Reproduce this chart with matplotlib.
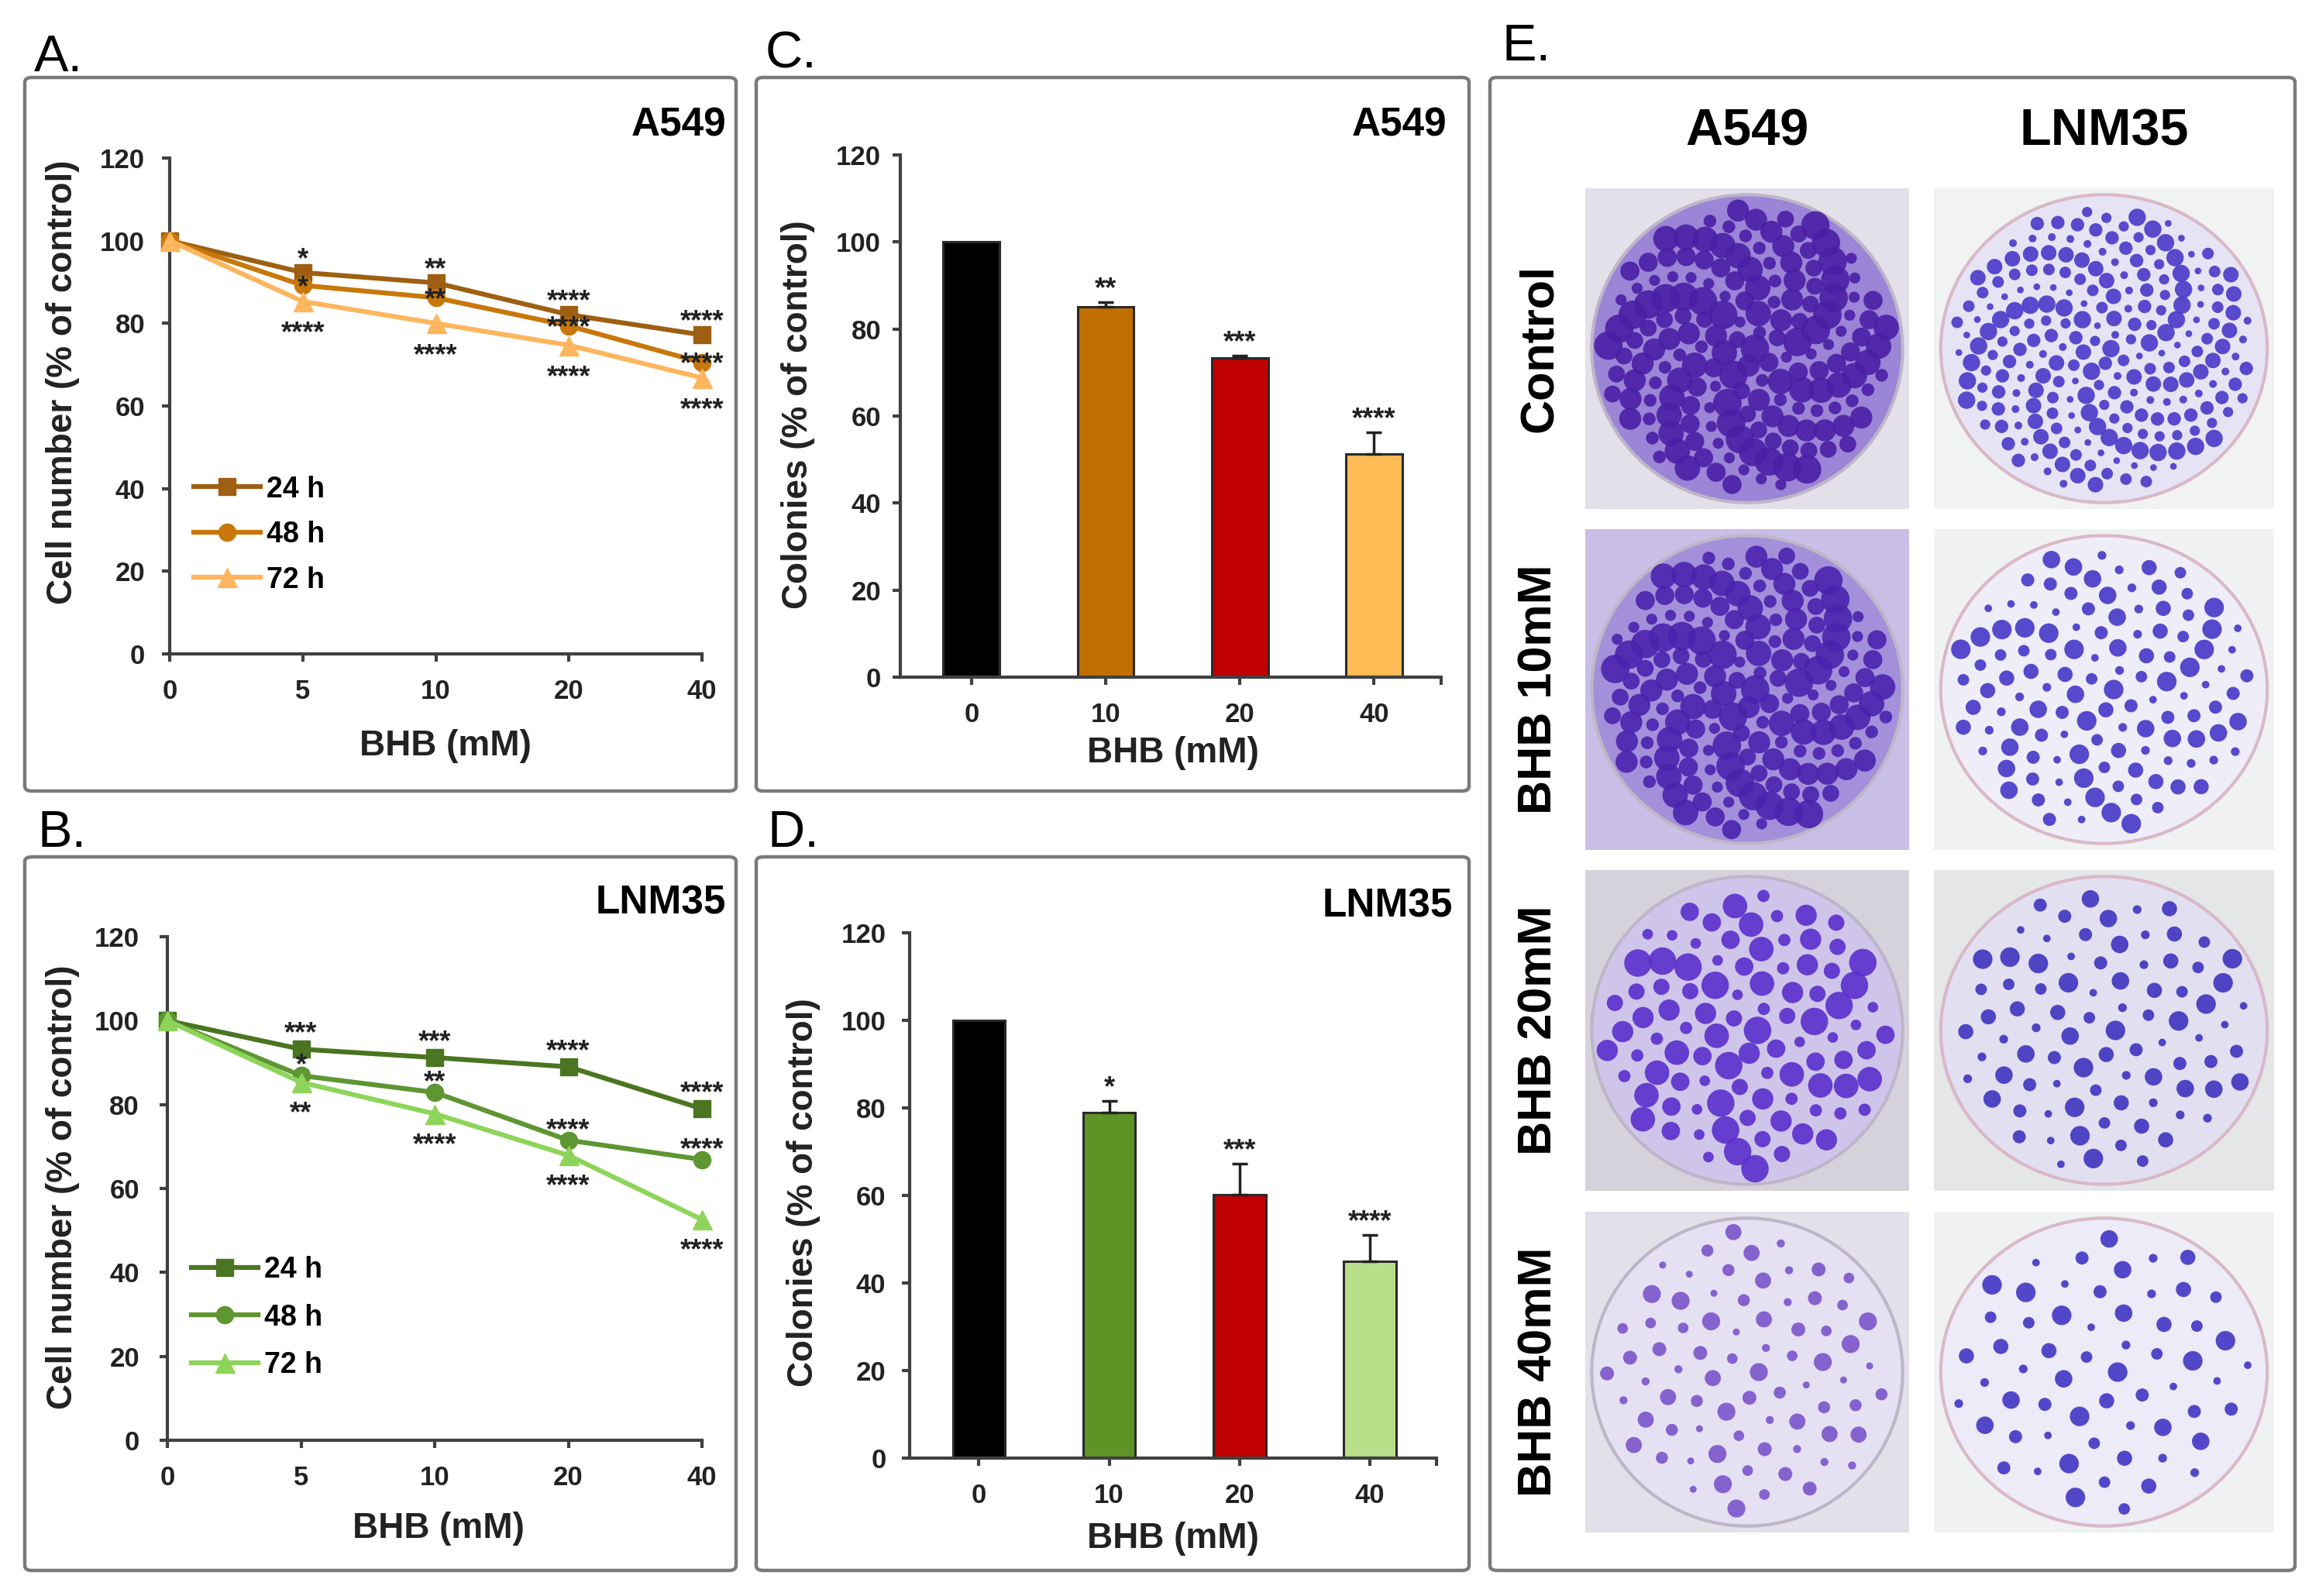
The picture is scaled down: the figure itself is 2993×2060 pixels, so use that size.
import numpy as np
import matplotlib
matplotlib.use("Agg")
import matplotlib.pyplot as plt
from matplotlib.patches import FancyBboxPatch, Circle, Rectangle

plt.rcParams['font.family'] = ['Liberation Sans', 'DejaVu Sans']
plt.rcParams['font.weight'] = 'bold'

W, H = 2993, 2060

# ---- data ----
doses_line = ['0', '5', '10', '20', '40']
doses_bar = ['0', '10', '20', '40']
hours = ['24 h', '48 h', '72 h']

# A. A549 cell number (% of control)
a549_24 = [100, 92.3, 89.8, 82.1, 77.2]
a549_48 = [100, 89.2, 86.2, 79.4, 70.5]
a549_72 = [100, 85.3, 80.0, 74.7, 66.8]
a549_24_sig = ['', '*', '**', '****', '****']
a549_48_sig = ['', '*', '**', '****', '****']
a549_72_sig = ['', '****', '****', '****', '****']

# B. LNM35 cell number (% of control)
lnm35_24 = [100, 93.2, 91.2, 89.0, 79.0]
lnm35_48 = [100, 86.9, 82.9, 71.5, 66.9]
lnm35_72 = [100, 85.3, 77.8, 67.9, 52.6]
lnm35_24_sig = ['', '***', '***', '****', '****']
lnm35_48_sig = ['', '*', '**', '****', '****']
lnm35_72_sig = ['', '**', '****', '****', '****']

# C. A549 colonies
a549_col = [100, 85.1, 73.4, 51.2]
a549_col_err = [0, 1.0, 0.5, 5.0]
a549_col_sig = ['', '**', '***', '****']

# D. LNM35 colonies
lnm35_col = [100, 79.0, 60.1, 45.0]
lnm35_col_err = [0, 2.6, 7.2, 6.0]
lnm35_col_sig = ['', '*', '***', '****']

# E. plates
plate_rows = ['Control', 'BHB 10mM', 'BHB 20mM', 'BHB 40mM']
plate_cols = ['A549', 'LNM35']
a549_colonies = [170, 160, 95, 75]
lnm35_colonies = [230, 120, 85, 60]

# colours
orange_cols = ['#9E5F12', '#C8780A', '#FDB65E']
green_cols = ['#4A7521', '#5E9632', '#8ED45A']
bar_c_cols = ['#000000', '#BF7000', '#C00000', '#FFBB55']
bar_d_cols = ['#000000', '#5E9426', '#C00000', '#B7DF8A']
spine_col = '#404040'


def fr(x0, y0, x1, y1):
    return [x0 / W, 1 - y1 / H, (x1 - x0) / W, (y1 - y0) / H]


def ftext(x, y, s, **kw):
    fig.text(x / W, 1 - y / H, s, **kw)


def box(x0, y0, x1, y1):
    p = FancyBboxPatch((x0 / W, 1 - y1 / H), (x1 - x0) / W, (y1 - y0) / H,
                       boxstyle='round,pad=0,rounding_size=0.003',
                       transform=fig.transFigure, fc='none', ec='#7a7a7a', lw=3.2)
    fig.patches.append(p)


def style_axes(ax, ypad, xpad):
    for s in ['top', 'right']:
        ax.spines[s].set_visible(False)
    for s in ['left', 'bottom']:
        ax.spines[s].set_color(spine_col)
        ax.spines[s].set_linewidth(3)
    ax.set_ylim(0, 120)
    ax.set_yticks(range(0, 121, 20))
    ax.tick_params(axis='y', length=7, width=3, color=spine_col, labelsize=25, pad=ypad)
    ax.tick_params(axis='x', length=7, width=3, color=spine_col, labelsize=25, pad=xpad)
    for t in ax.get_xticklabels() + ax.get_yticklabels():
        t.set_fontweight('bold')
        t.set_color('#222222')


fig = plt.figure(figsize=(W / 100, H / 100), dpi=100)
fig.patch.set_facecolor('white')

# panel boxes
box(32, 100, 950, 1021)
box(32, 1106, 950, 2027)
box(976, 100, 1896, 1021)
box(976, 1106, 1896, 2027)
box(1923, 100, 2962, 2027)

# panel letters
for lab, x, y in [('A.', 44, 92), ('B.', 48, 1093), ('C.', 988, 88), ('D.', 990, 1093), ('E.', 1938, 78)]:
    ftext(x, y, lab, fontsize=48, fontweight='normal', ha='left', va='baseline')


def line_panel(rect, series, sigs, colors, offs, title, title_xy, ylab_xy, xlab_xy, leg_anchor, leg_sp, ypad):
    ax = fig.add_axes(fr(*rect))
    xs = np.arange(len(doses_line))
    markers = ['s', 'o', '^']
    msz = [16, 16, 18]
    handles = []
    for vals, c, m, ms, lab in zip(series, colors, markers, msz, hours):
        h, = ax.plot(xs, vals, color=c, lw=4.5, marker=m, ms=ms, mec=c, mfc=c,
                     clip_on=False, label=lab, zorder=3)
        handles.append(h)
    fs = 26
    for vals, sg, off in zip(series, sigs, offs):
        for i, (v, s) in enumerate(zip(vals, sg)):
            if s:
                ax.annotate(s, (i, v), xytext=(0, off - 0.58 * fs), textcoords='offset points',
                            ha='center', va='baseline', fontsize=fs, fontweight='bold',
                            color='#222222', zorder=4)
    ax.set_xlim(0, 4)
    ax.set_xticks(xs)
    ax.set_xticklabels(doses_line)
    style_axes(ax, ypad, 16)
    ax.legend(handles=handles, loc='upper left', bbox_to_anchor=leg_anchor, frameon=False,
              prop={'weight': 'bold', 'size': 27}, handlelength=2.3, handletextpad=0.2,
              labelspacing=leg_sp, borderpad=0, borderaxespad=0)
    ftext(title_xy[0], title_xy[1], title, fontsize=37, fontweight='bold', ha='right', va='baseline')
    ftext(ylab_xy[0], ylab_xy[1], 'Cell number (% of control)', fontsize=33, fontweight='bold',
          rotation=90, ha='center', va='center', color='#222222')
    ftext(xlab_xy[0], xlab_xy[1], 'BHB (mM)', fontsize=33, fontweight='bold',
          ha='center', va='center', color='#222222')
    return ax


line_panel((219, 204, 906, 844), [a549_24, a549_48, a549_72],
           [a549_24_sig, a549_48_sig, a549_72_sig], orange_cols, [20, 6, -22],
           'A549', (937, 175), (81, 493), (575, 963), (0.045, 0.36), 0.6, 16)
line_panel((216, 1209, 906, 1859), [lnm35_24, lnm35_48, lnm35_72],
           [lnm35_24_sig, lnm35_48_sig, lnm35_72_sig], green_cols, [22, 17, -21],
           'LNM35', (937, 1180), (81, 1532), (566, 1973), (0.045, 0.366), 0.68, 19)


def bar_panel(rect, vals, errs, sigs, colors, width, xlim, title, title_xy, ylab_xy, xlab_xy, ypad):
    ax = fig.add_axes(fr(*rect))
    xs = np.arange(len(doses_bar))
    ax.bar(xs, vals, width=width, color=colors, edgecolor='#2a2a2a', lw=2.2, zorder=2)
    lower = np.zeros(len(errs))
    ax.errorbar(xs[1:], vals[1:], yerr=[lower[1:], errs[1:]], fmt='none', ecolor='#222222',
                elinewidth=2.5, capsize=7, capthick=2.5, zorder=3)
    fs = 26
    for i, (v, e, s) in enumerate(zip(vals, errs, sigs)):
        if s:
            ax.annotate(s, (i, v + e), xytext=(0, 20 - 0.58 * fs), textcoords='offset points',
                        ha='center', va='baseline', fontsize=fs, fontweight='bold', color='#222222')
    ax.set_xlim(*xlim)
    ax.set_xticks(xs)
    ax.set_xticklabels(doses_bar)
    ax.set_xticks([xlim[1]], minor=True)
    ax.tick_params(axis='x', which='minor', length=7, width=3, color=spine_col)
    style_axes(ax, ypad, 16)
    ftext(title_xy[0], title_xy[1], title, fontsize=37, fontweight='bold', ha='right', va='baseline')
    ftext(ylab_xy[0], ylab_xy[1], 'Colonies (% of control)', fontsize=33, fontweight='bold',
          rotation=90, ha='center', va='center', color='#222222')
    ftext(xlab_xy[0], xlab_xy[1], 'BHB (mM)', fontsize=33, fontweight='bold',
          ha='center', va='center', color='#222222')
    return ax


bar_panel((1162, 200, 1860, 874), a549_col, a549_col_err, a549_col_sig, bar_c_cols, 0.42,
          (-0.53, 3.5), 'A549', (1867, 175), (1030, 535), (1514, 972), 11)
bar_panel((1174, 1204, 1854, 1882), lnm35_col, lnm35_col_err, lnm35_col_sig, bar_d_cols, 0.40,
          (-0.53, 3.51), 'LNM35', (1875, 1184), (1037, 1539), (1514, 1986), 15)

# ---- E. colony plates (drawn, approximating the photographs) ----
row_y = [(243, 657), (683, 1097), (1123, 1537), (1564, 1978)]
col_x = [(2046, 2464), (2496, 2935)]
a549_bg = ['#E4E0EA', '#C9BEE6', '#D6D2DC', '#E4E0EA']
a549_dish = ['#9C84D6', '#A48FDA', '#CFC5EA', '#E6E1F2']
a549_colony = ['#4A1FA6', '#4A22AE', '#5A2ECC', '#7A55CC']
lnm35_bg = ['#F1F2F2', '#F0F1F2', '#E4E6E8', '#F0F1F2']
lnm35_dish = ['#E6E4F4', '#EEEDF8', '#E2E0F0', '#ECEBF7']
lnm35_colony = ['#4A38C8', '#4537C8', '#3F33C0', '#4235C4']
size_cycle = np.array([1.0, 0.35, 0.6, 0.2, 0.8, 0.45, 0.15])


def plate(rect, bg, dish, rim, colony, n, big):
    ax = fig.add_axes(fr(*rect))
    ax.set_xlim(-1, 1)
    ax.set_ylim(-1, 1)
    ax.axis('off')
    ax.add_patch(Rectangle((-1, -1), 2, 2, color=bg))
    ax.add_patch(Circle((0, 0), 0.96, fc=dish, ec=rim, lw=3))
    k = np.arange(n)
    r = 0.88 * np.sqrt((k + 0.5) / n)
    th = k * 2.39996
    ax.scatter(r * np.cos(th), r * np.sin(th), s=big * size_cycle[k % 7], c=colony,
               alpha=0.9, lw=0)


for j, (y0, y1) in enumerate(row_y):
    plate((col_x[0][0], y0, col_x[0][1], y1), a549_bg[j], a549_dish[j], '#BDB6C8',
          a549_colony[j], a549_colonies[j], [700, 700, 650, 280][j])
    plate((col_x[1][0], y0, col_x[1][1], y1), lnm35_bg[j], lnm35_dish[j], '#D9B8C8',
          lnm35_colony[j], lnm35_colonies[j], [260, 330, 330, 330][j])
    ftext(1987, (y0 + y1) / 2, plate_rows[j], fontsize=44, fontweight='bold',
          rotation=90, ha='center', va='center')

for lab, (x0, x1) in zip(plate_cols, col_x):
    ftext((x0 + x1) / 2, 171, lab, fontsize=48, fontweight='bold', ha='center', va='center')

fig.savefig('out.png', dpi=100, facecolor='white')
